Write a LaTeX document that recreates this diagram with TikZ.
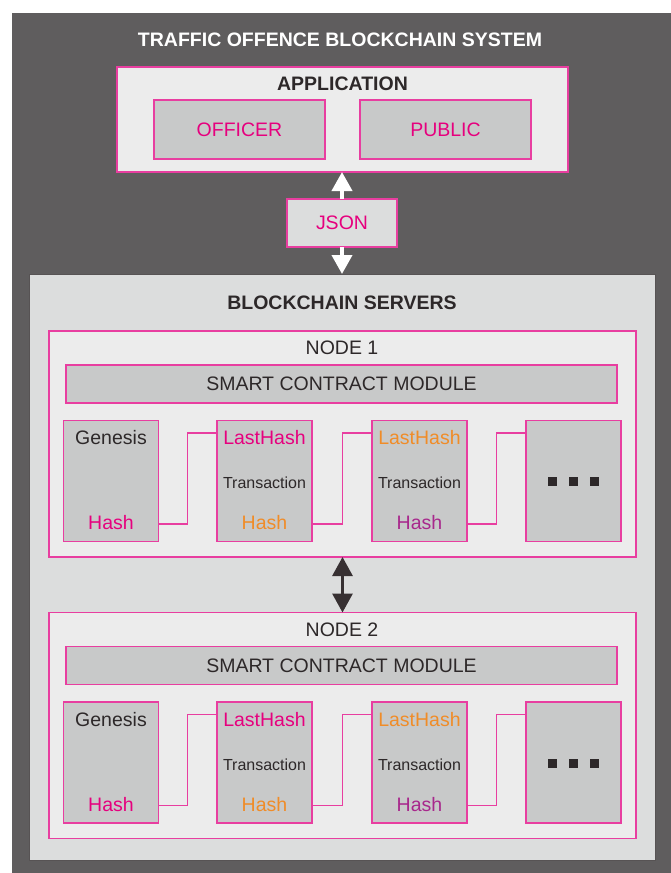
\documentclass[tikz,border=0pt]{standalone}
\usepackage{fontspec}
\setmainfont{Liberation Sans}
\usetikzlibrary{arrows.meta}

\definecolor{sysgray}{RGB}{95,93,94}
\definecolor{appfill}{RGB}{236,236,236}
\definecolor{boxfill}{RGB}{200,201,201}
\definecolor{srvfill}{RGB}{220,221,221}
\definecolor{rimpink}{RGB}{232,62,160}
\definecolor{txtpink}{RGB}{230,0,126}
\definecolor{txtorange}{RGB}{240,140,40}
\definecolor{txtpurple}{RGB}{168,40,140}
\definecolor{txtdark}{RGB}{45,40,41}
\definecolor{arrowdark}{RGB}{55,48,50}

\tikzset{
  panel/.style={draw=rimpink, line width=1.3pt, inner sep=0pt, outer sep=0pt},
  lightpanel/.style={panel, fill=appfill},
  graybox/.style={panel, fill=boxfill},
  block/.style={graybox, minimum width=95pt, minimum height=121pt},
  big/.style={inner sep=0pt, font=\fontsize{19.5}{22}\selectfont},
  heading/.style={inner sep=0pt, font=\fontsize{19.5}{22}\selectfont\bfseries},
  small/.style={inner sep=0pt, font=\fontsize{16}{19}\selectfont, text=txtdark},
  link/.style={draw=rimpink, line width=1.3pt},
  dot/.style={fill=txtdark, minimum size=9pt, inner sep=0pt},
  whitearrow/.style={draw=white, line width=4pt, -{Triangle[width=20pt,length=19pt]}},
  darkarrow/.style={draw=arrowdark, line width=3pt,
    {Triangle[width=20pt,length=19pt]}-{Triangle[width=20pt,length=19pt]}}
}

\begin{document}
\begin{tikzpicture}[x=1pt,y=-1pt]
      \useasboundingbox (0,0) rectangle (671,873);
      \fill [sysgray] (12,13) rectangle (671,873);
      \node [heading, text=white] (title) at (340,40) {TRAFFIC OFFENCE BLOCKCHAIN SYSTEM};
      % application
      \node [lightpanel, minimum width=451pt, minimum height=105pt] (app) at (342.5,119.5) {};
      \node [heading, text=txtdark] (apptitle) at (342.5,84) {APPLICATION};
      \node [graybox, big, text=txtpink, minimum width=171pt, minimum height=59pt] (officer) at (239.5,129.5) {OFFICER};
      \node [graybox, big, text=txtpink, minimum width=171pt, minimum height=59pt] (public) at (445.5,129.5) {PUBLIC};
      \node [panel, fill=srvfill, big, text=txtpink, minimum width=110pt, minimum height=48pt] (json) at (342,223) {JSON};
      \draw [whitearrow] (json.north) -- (json.north |- app.south);
      % servers
      \node [draw=txtdark!80, fill=srvfill, line width=1pt, inner sep=0pt, outer sep=0pt,
             minimum width=626pt, minimum height=586pt] (servers) at (342,567) {};
      \draw [whitearrow] (json.south) -- (json.south |- servers.north);
      \node [heading, text=txtdark] (srvtitle) at (342,303) {BLOCKCHAIN SERVERS};
      % node 1
      \node [lightpanel, minimum width=587pt, minimum height=226pt] (nodeA) at (342.5,444) {};
      \node [big, text=txtdark] (nodeAtitle) at (342,348) {NODE 1};
      \node [graybox, big, text=txtdark, minimum width=551pt, minimum height=38pt] (smartA) at (341.5,384) {SMART CONTRACT MODULE};
      \node [block] (genA) at (111,481) {};
      \node [block] (blkA1) at (264.5,481) {};
      \node [block] (blkA2) at (419.5,481) {};
      \node [block] (blkA3) at (573.5,481) {};
      \node [big, text=txtdark] (genAname) at (111,438) {Genesis};
      \node [big, text=txtpink] (genAhash) at (111,523) {Hash};
      \node [big, text=txtpink] (blkA1last) at (264.5,438) {LastHash};
      \node [small] (blkA1tx) at (264.5,483) {Transaction};
      \node [big, text=txtorange] (blkA1hash) at (264.5,523) {Hash};
      \node [big, text=txtorange] (blkA2last) at (419.5,438) {LastHash};
      \node [small] (blkA2tx) at (419.5,483) {Transaction};
      \node [big, text=txtpurple] (blkA2hash) at (419.5,523) {Hash};
      \node [dot] (dotA1) at (552.5,481.5) {};
      \node [dot] (dotA2) at (573.5,481.5) {};
      \node [dot] (dotA3) at (594.5,481.5) {};
      \draw [link] ([yshift=17.5pt]genA.south east) -- ++(29.25,0) |- ([yshift=-12.5pt]blkA1.north west);
      \draw [link] ([yshift=17.5pt]blkA1.south east) -- ++(30.5,0) |- ([yshift=-12.5pt]blkA2.north west);
      \draw [link] ([yshift=17.5pt]blkA2.south east) -- ++(29.5,0) |- ([yshift=-12.5pt]blkA3.north west);
      % node 2
      \node [lightpanel, minimum width=587pt, minimum height=226pt] (nodeB) at (342.5,725.5) {};
      \draw [darkarrow] (nodeA.south) -- (nodeB.north);
      \node [big, text=txtdark] (nodeBtitle) at (342,629.5) {NODE 2};
      \node [graybox, big, text=txtdark, minimum width=551pt, minimum height=38pt] (smartB) at (341.5,665.5) {SMART CONTRACT MODULE};
      \node [block] (genB) at (111,762.5) {};
      \node [block] (blkB1) at (264.5,762.5) {};
      \node [block] (blkB2) at (419.5,762.5) {};
      \node [block] (blkB3) at (573.5,762.5) {};
      \node [big, text=txtdark] (genBname) at (111,719.5) {Genesis};
      \node [big, text=txtpink] (genBhash) at (111,804.5) {Hash};
      \node [big, text=txtpink] (blkB1last) at (264.5,719.5) {LastHash};
      \node [small] (blkB1tx) at (264.5,764.5) {Transaction};
      \node [big, text=txtorange] (blkB1hash) at (264.5,804.5) {Hash};
      \node [big, text=txtorange] (blkB2last) at (419.5,719.5) {LastHash};
      \node [small] (blkB2tx) at (419.5,764.5) {Transaction};
      \node [big, text=txtpurple] (blkB2hash) at (419.5,804.5) {Hash};
      \node [dot] (dotB1) at (552.5,763) {};
      \node [dot] (dotB2) at (573.5,763) {};
      \node [dot] (dotB3) at (594.5,763) {};
      \draw [link] ([yshift=17.5pt]genB.south east) -- ++(29.25,0) |- ([yshift=-12.5pt]blkB1.north west);
      \draw [link] ([yshift=17.5pt]blkB1.south east) -- ++(30.5,0) |- ([yshift=-12.5pt]blkB2.north west);
      \draw [link] ([yshift=17.5pt]blkB2.south east) -- ++(29.5,0) |- ([yshift=-12.5pt]blkB3.north west);
   \end{tikzpicture}
\end{document}
